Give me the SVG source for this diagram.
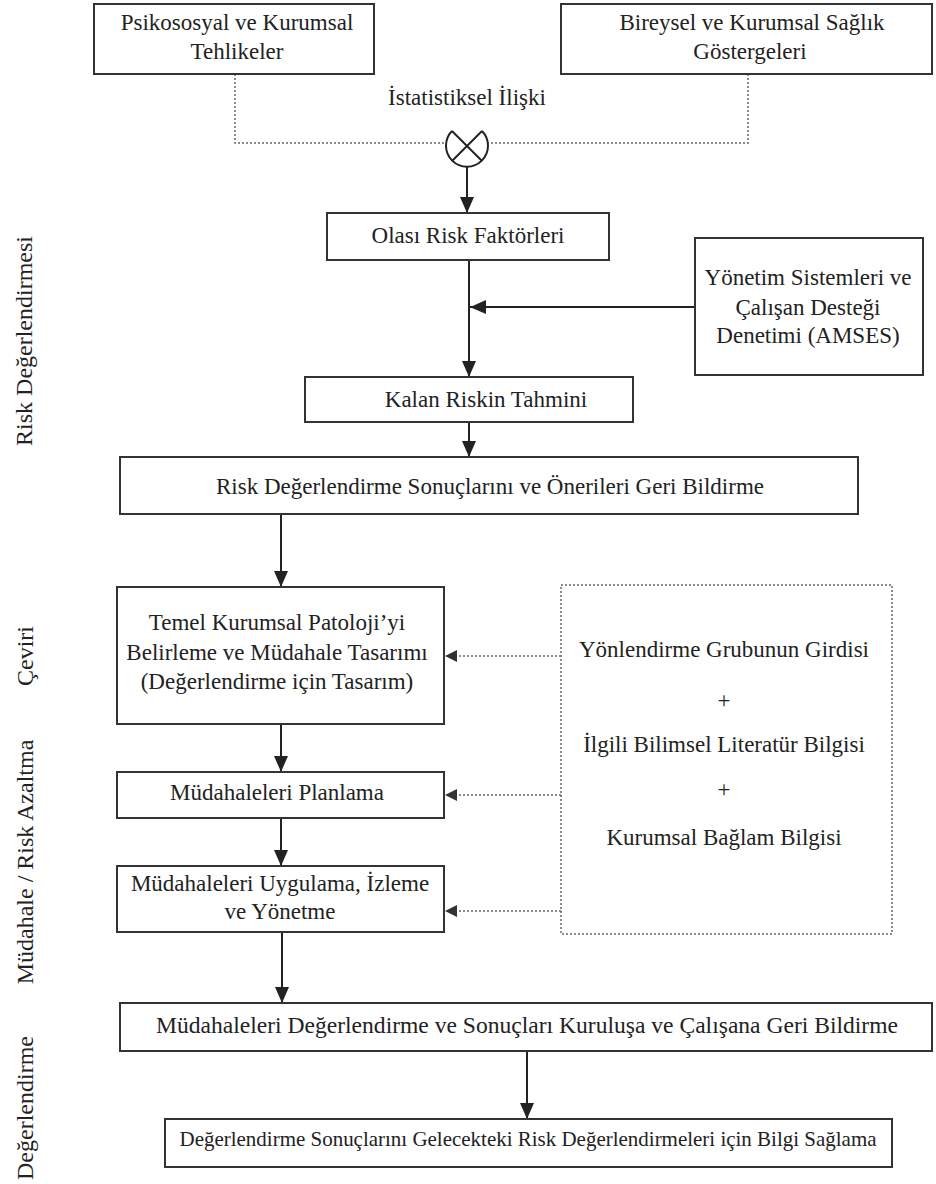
<svg xmlns="http://www.w3.org/2000/svg" width="936" height="1184" viewBox="0 0 936 1184">
<style>
.box{fill:#fff;stroke:#333;stroke-width:2}
.dbox{fill:none;stroke:#666;stroke-width:1.5;stroke-dasharray:2 2}
.t{font-family:"Liberation Serif","Times New Roman",serif;font-size:23px;fill:#222;text-anchor:middle}
.side{font-family:"Liberation Serif","Times New Roman",serif;font-size:24px;fill:#222;text-anchor:middle}
.ln{fill:none;stroke:#222;stroke-width:2}
.dl{fill:none;stroke:#666;stroke-width:1.5;stroke-dasharray:2 2}
</style>
<defs>
<marker id="ah" markerUnits="userSpaceOnUse" markerWidth="14" markerHeight="16" refX="16" refY="7" orient="auto">
<path d="M0,0 L16,7 L0,14 z" fill="#222"/>
</marker>
<marker id="ahd" markerUnits="userSpaceOnUse" markerWidth="12" markerHeight="12" refX="12" refY="6" orient="auto">
<path d="M0,0 L12,6 L0,12 z" fill="#333"/>
</marker>
</defs>
<rect width="936" height="1184" fill="#fff"/>

<g id="side-labels">
<text class="side" transform="translate(32,341) rotate(-90)">Risk Değerlendirmesi</text>
<text class="side" transform="translate(33,656) rotate(-90)">Çeviri</text>
<text class="side" transform="translate(33,862) rotate(-90)">Müdahale / Risk Azaltma</text>
<text class="side" transform="translate(33,1108) rotate(-90)">Değerlendirme</text>
</g>

<g id="connectors">
<path class="dl" d="M235,74 V143 H446"/>
<path class="dl" d="M748,74 V143 H488"/>
<line class="ln" x1="467" y1="167" x2="467" y2="213" marker-end="url(#ah)"/>
<line class="ln" x1="469" y1="260" x2="469" y2="377" marker-end="url(#ah)"/>
<line class="ln" x1="695" y1="307" x2="470" y2="307" marker-end="url(#ah)"/>
<line class="ln" x1="469" y1="422" x2="469" y2="457" marker-end="url(#ah)"/>
<line class="ln" x1="281" y1="514" x2="281" y2="587" marker-end="url(#ah)"/>
<line class="ln" x1="281" y1="724" x2="281" y2="772" marker-end="url(#ah)"/>
<line class="ln" x1="281" y1="818" x2="281" y2="866" marker-end="url(#ah)"/>
<line class="ln" x1="282" y1="932" x2="282" y2="1003" marker-end="url(#ah)"/>
<line class="ln" x1="527" y1="1051" x2="527" y2="1119" marker-end="url(#ah)"/>
<line class="dl" x1="561" y1="656" x2="445" y2="656" marker-end="url(#ahd)"/>
<line class="dl" x1="561" y1="795" x2="445" y2="795" marker-end="url(#ahd)"/>
<line class="dl" x1="561" y1="911" x2="445" y2="911" marker-end="url(#ahd)"/>
</g>

<g id="n-hazards">
<rect class="box" x="94" y="4" width="280" height="70"/>
<text class="t" x="237" y="30">Psikososyal ve Kurumsal</text>
<text class="t" x="237" y="59">Tehlikeler</text>
</g>

<g id="n-indicators">
<rect class="box" x="561" y="4" width="371" height="70"/>
<text class="t" x="752" y="30">Bireysel ve Kurumsal Sağlık</text>
<text class="t" x="750" y="59">Göstergeleri</text>
</g>

<g id="n-stat">
<text class="t" x="467" y="105">İstatistiksel İlişki</text>
<path class="ln" d="M482,131 A21,21 0 1 1 452,131"/>
<line class="ln" x1="452" y1="131" x2="482" y2="161"/>
<line class="ln" x1="482" y1="131" x2="452" y2="161"/>
</g>

<g id="n-possible">
<rect class="box" x="327" y="213" width="282" height="47"/>
<text class="t" x="468" y="243">Olası Risk Faktörleri</text>
</g>

<g id="n-amses">
<rect class="box" x="695" y="238" width="228" height="137"/>
<text class="t" x="808" y="285">Yönetim Sistemleri ve</text>
<text class="t" x="808" y="315">Çalışan Desteği</text>
<text class="t" x="808" y="343">Denetimi (AMSES)</text>
</g>

<g id="n-residual">
<rect class="box" x="305" y="377" width="328" height="45"/>
<text class="t" x="486" y="407">Kalan Riskin Tahmini</text>
</g>

<g id="n-feedback">
<rect class="box" x="120" y="457" width="738" height="57"/>
<text class="t" x="490" y="494">Risk Değerlendirme Sonuçlarını ve Önerileri Geri Bildirme</text>
</g>

<g id="n-pathology">
<rect class="box" x="117" y="587" width="327" height="137"/>
<text class="t" x="277" y="630">Temel Kurumsal Patoloji’yi</text>
<text class="t" x="277" y="660">Belirleme ve Müdahale Tasarımı</text>
<text class="t" x="277" y="689">(Değerlendirme için Tasarım)</text>
</g>

<g id="n-plan">
<rect class="box" x="117" y="772" width="327" height="46"/>
<text class="t" x="277" y="800">Müdahaleleri Planlama</text>
</g>

<g id="n-implement">
<rect class="box" x="117" y="866" width="327" height="66"/>
<text class="t" x="280" y="891">Müdahaleleri Uygulama, İzleme</text>
<text class="t" x="280" y="919">ve Yönetme</text>
</g>

<g id="n-inputs">
<rect class="dbox" x="561" y="585" width="331" height="349"/>
<text class="t" x="724" y="657">Yönlendirme Grubunun Girdisi</text>
<text class="t" x="724" y="708">+</text>
<text class="t" x="724" y="752">İlgili Bilimsel Literatür Bilgisi</text>
<text class="t" x="724" y="797">+</text>
<text class="t" x="724" y="845">Kurumsal Bağlam Bilgisi</text>
</g>

<g id="n-evaluate">
<rect class="box" x="120" y="1003" width="812" height="48"/>
<text class="t" x="527" y="1033" textLength="742" lengthAdjust="spacingAndGlyphs">Müdahaleleri Değerlendirme ve Sonuçları Kuruluşa ve Çalışana Geri Bildirme</text>
</g>

<g id="n-inform">
<rect class="box" x="165" y="1119" width="727" height="48"/>
<text class="t" x="528" y="1146" style="font-size:21px" textLength="697" lengthAdjust="spacingAndGlyphs">Değerlendirme Sonuçlarını Gelecekteki Risk Değerlendirmeleri için Bilgi Sağlama</text>
</g>
</svg>
